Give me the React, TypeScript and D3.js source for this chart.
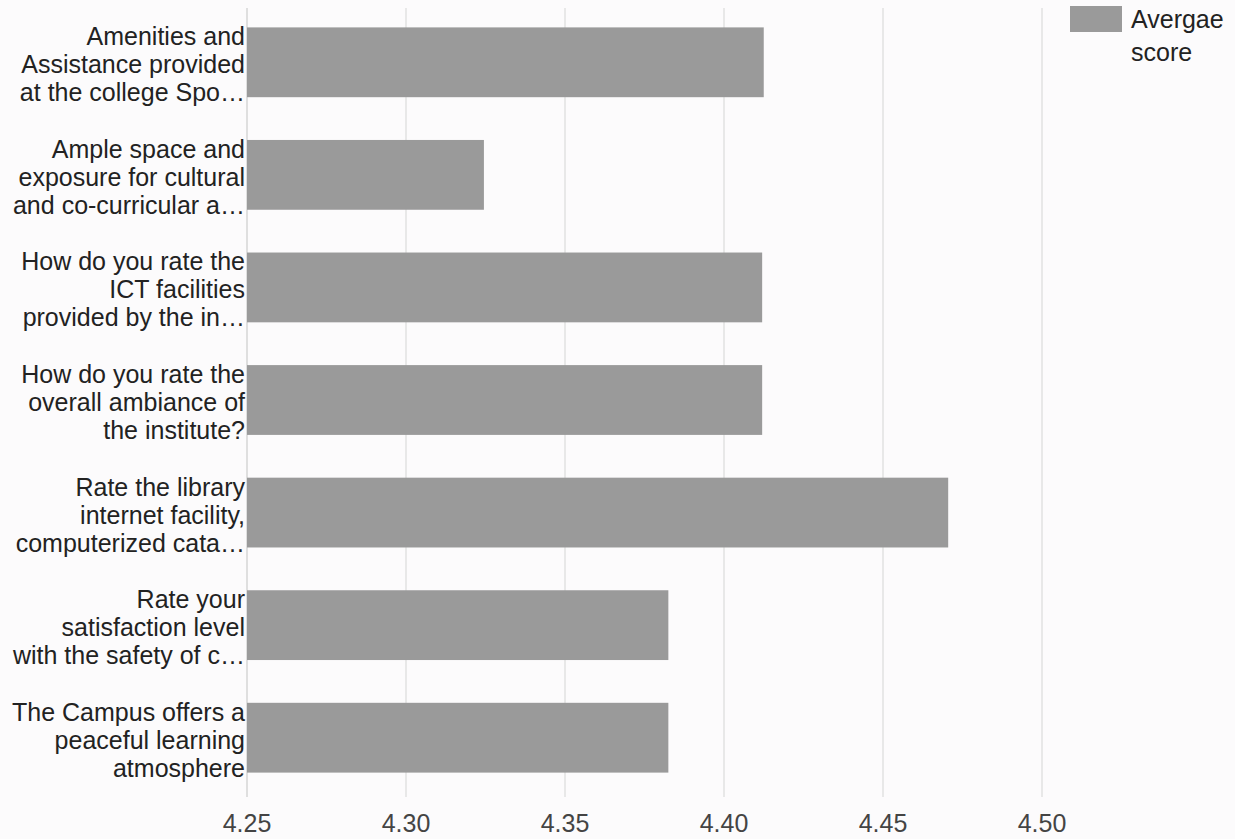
import React, { useEffect, useRef } from "react";
import * as d3 from "d3";

// category labels, already wrapped/truncated as shown in the chart
const categories: string[][] = [
  ["Amenities and", "Assistance provided", "at the college Spo…"],
  ["Ample space and", "exposure for cultural", "and co-curricular a…"],
  ["How do you rate the", "ICT facilities", "provided by the in…"],
  ["How do you rate the", "overall ambiance of", "the institute?"],
  ["Rate the library", "internet facility,", "computerized cata…"],
  ["Rate your", "satisfaction level", "with the safety of c…"],
  ["The Campus offers a", "peaceful learning", "atmosphere"],
];
const averageScore = [4.4125, 4.3245, 4.412, 4.412, 4.4705, 4.3825, 4.3825];
const xTicks = [4.25, 4.3, 4.35, 4.4, 4.45, 4.5];
const legendLines = ["Avergae", "score"];

function App() {
  const ref = useRef<SVGSVGElement>(null);
  const width = 1235;
  const height = 839;
  const marginLeft = 247;
  const plotRight = 1042;
  const marginTop = 6;
  const plotBottom = 794;
  const font = "'Liberation Sans', Arial, sans-serif";
  const barColor = "#9a9a9a";

  useEffect(() => {
    document.body.style.margin = "0";
    const svg = d3.select(ref.current);
    svg.selectAll("*").remove();

    svg
      .append("rect")
      .attr("width", width)
      .attr("height", height)
      .attr("fill", "#fcfbfc");

    const x = d3.scaleLinear().domain([4.25, 4.5]).range([marginLeft, plotRight]);

    const y = d3
      .scaleBand<number>()
      .domain(d3.range(categories.length))
      .range([marginTop, plotBottom])
      .paddingInner(0.38)
      .paddingOuter(0.19);

    // vertical grid lines
    svg
      .append("g")
      .selectAll("line")
      .data(xTicks)
      .join("line")
      .attr("x1", (d) => x(d))
      .attr("x2", (d) => x(d))
      .attr("y1", 8)
      .attr("y2", 797)
      .attr("stroke", (d, i) => (i === 0 ? "#d6d6d6" : "#e2e2e2"))
      .attr("stroke-width", 1.5);

    // bars
    svg
      .append("g")
      .selectAll("rect")
      .data(averageScore)
      .join("rect")
      .attr("x", x(4.25))
      .attr("y", (d, i) => y(i) as number)
      .attr("width", (d) => x(d) - x(4.25))
      .attr("height", y.bandwidth())
      .attr("fill", barColor);

    // category labels
    const labels = svg
      .append("g")
      .attr("font-family", font)
      .attr("font-size", 25)
      .attr("fill", "#222")
      .attr("text-anchor", "end");

    categories.forEach((lines, i) => {
      const cy = (y(i) as number) + y.bandwidth() / 2;
      labels
        .append("text")
        .selectAll("tspan")
        .data(lines)
        .join("tspan")
        .attr("x", marginLeft - 2)
        .attr("y", (d, j) => cy + (j - 1) * 28 + 2)
        .attr("dominant-baseline", "central")
        .text((d) => d);
    });

    // x axis tick labels
    svg
      .append("g")
      .attr("font-family", font)
      .attr("font-size", 25)
      .attr("fill", "#444")
      .attr("text-anchor", "middle")
      .selectAll("text")
      .data(xTicks)
      .join("text")
      .attr("x", (d) => x(d))
      .attr("y", 823)
      .attr("dominant-baseline", "central")
      .text((d) => d3.format(".2f")(d));

    // legend
    const legend = svg.append("g").attr("font-family", font).attr("font-size", 25).attr("fill", "#222");
    legend
      .append("rect")
      .attr("x", 1070)
      .attr("y", 6)
      .attr("width", 52)
      .attr("height", 26)
      .attr("fill", barColor);
    legend
      .selectAll("text")
      .data(legendLines)
      .join("text")
      .attr("x", 1131)
      .attr("y", (d, i) => 19 + i * 33)
      .attr("dominant-baseline", "central")
      .text((d) => d);
  }, []);

  return <svg ref={ref} width={width} height={height} style={{ display: "block" }}></svg>;
}

export default App;
